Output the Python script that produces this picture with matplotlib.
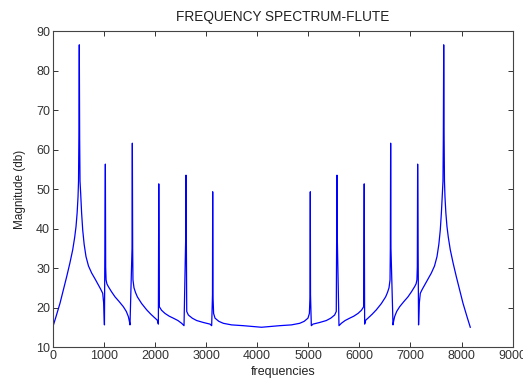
import matplotlib.pyplot as plt

# spectrum trace (left half, then right half)
freq_left = [0, 60, 143, 210, 273, 335, 391, 430, 456, 478, 495, 505, 512, 520, 527, 534,
             547, 565, 587, 615, 651, 700, 763, 830, 893, 940, 978, 998, 1012, 1030, 1036,
             1044, 1060, 1088, 1150, 1219, 1300, 1382, 1440, 1480, 1500, 1512, 1552, 1558,
             1564, 1570, 1590, 1620, 1656, 1740, 1839, 1920, 2002, 2045, 2067, 2075, 2080,
             2086, 2130, 2197, 2280, 2360, 2450, 2523, 2569, 2603, 2608, 2614, 2622, 2654,
             2730, 2817, 2950, 3077, 3110, 3126, 3130, 3135, 3148, 3176, 3250, 3338, 3500,
             3730, 3900, 4085]
mag_left = [15.0, 17.5, 21.1, 24.5, 27.8, 31.2, 34.6, 37.8, 40.5, 44, 48, 52, 63, 86.5, 63, 52,
            48.9, 44, 39.6, 36, 32.9, 30.5, 28.7, 27.2, 25.7, 24.6, 23.6, 21, 15.6, 56.3, 30.3,
            27, 26, 25.3, 24, 22.7, 21.5, 20.2, 19, 17.7, 16.5, 15.6, 35, 61.6,
            35, 27, 25, 23.8, 22.7, 21, 19.4, 18.3, 17.3, 16.8, 15.8, 51.3, 36.2,
            20.2, 19.3, 18.5, 17.8, 17.3, 16.7, 16.0, 15.4, 38.4, 53.5, 38.4, 19, 18.1,
            17.3, 16.7, 16.2, 15.8, 15.4, 23.2, 49.3, 23.2, 18.5, 17.3, 16.5, 16.0, 15.6,
            15.4, 15.2, 15.0]

freq_right = [4270, 4440, 4670, 4832, 4920, 4994, 5022, 5035, 5040, 5044, 5060, 5093, 5220,
              5353, 5440, 5516, 5548, 5556, 5562, 5567, 5601, 5647, 5720, 5810, 5890, 5973,
              6040, 6084, 6090, 6095, 6103, 6125, 6168, 6250, 6331, 6430, 6514, 6550, 6580,
              6600, 6606, 6612, 6618, 6658, 6670, 6690, 6730, 6788, 6870, 6951, 7020, 7082,
              7110, 7126, 7134, 7140, 7158, 7172, 7192, 7230, 7277, 7340, 7407, 7470, 7519,
              7555, 7583, 7605, 7623, 7636, 7643, 7650, 7658, 7665, 7675, 7692, 7714, 7740,
              7779, 7835, 7897, 7960, 8027, 8110, 8170]
mag_right = [15.2, 15.4, 15.6, 16.0, 16.5, 17.3, 18.5, 23.2, 49.3, 23.2, 15.4, 15.8, 16.2,
             16.7, 17.3, 18.1, 19, 38.4, 53.5, 38.4, 15.4, 16.0, 16.7, 17.3, 17.8, 18.5,
             19.3, 20.2, 36.2, 51.3, 15.8, 16.8, 17.3, 18.3, 19.4, 21, 22.7, 23.8, 25,
             27, 35, 61.6, 35, 15.6, 16.5, 17.7, 19, 20.2, 21.5, 22.7, 24, 25.3,
             26, 27, 30.3, 56.3, 15.6, 21, 23.6, 24.6, 25.7, 27.2, 28.7, 30.5, 32.9,
             36, 39.6, 44, 48.9, 52, 63, 86.5, 63, 52, 48, 44, 40.5, 37.8,
             34.6, 31.2, 27.8, 24.5, 21.1, 17.5, 15.0]

xticks = [0, 1000, 2000, 3000, 4000, 5000, 6000, 7000, 8000, 9000]
yticks = [10, 20, 30, 40, 50, 60, 70, 80, 90]

plt.rcParams['font.family'] = ['Liberation Sans', 'DejaVu Sans']

fig = plt.figure(figsize=(5.23, 3.79), dpi=100)
ax = fig.add_axes([0.1008, 0.0844, 0.8795, 0.8338])
ax.plot(freq_left + freq_right, mag_left + mag_right, color='#0000ff', linewidth=0.9)

ax.set_xlim(0, 9000)
ax.set_ylim(10, 90)
ax.set_xticks(xticks)
ax.set_yticks(yticks)
ax.tick_params(direction='in', top=True, right=True, length=3.5, width=0.7,
               labelsize=9, colors='#333333', pad=2)
for s in ax.spines.values():
    s.set_color('#444444')
    s.set_linewidth(0.8)

ax.set_title('FREQUENCY SPECTRUM-FLUTE', fontsize=9.8, color='#222222', pad=7)
ax.set_xlabel('frequencies', fontsize=9, color='#222222', labelpad=3)
ax.set_ylabel('Magnitude (db)', fontsize=8.5, color='#222222', labelpad=7)

fig.savefig('out.png', dpi=100)
